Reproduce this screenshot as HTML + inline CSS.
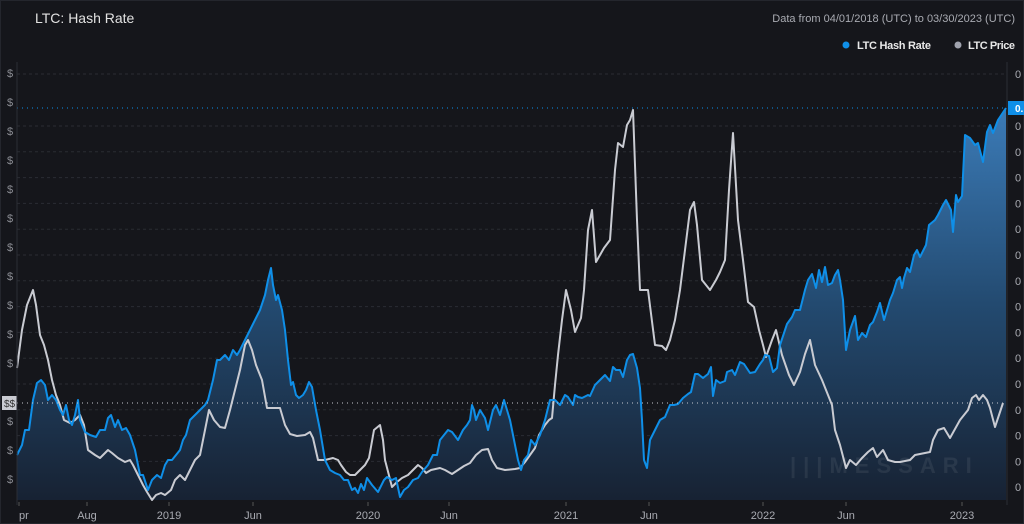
<!DOCTYPE html>
<html><head><meta charset="utf-8"><style>
html,body{margin:0;padding:0;background:#15161b;width:1024px;height:524px;overflow:hidden;font-family:"Liberation Sans",sans-serif}
svg{display:block}
</style></head><body>
<svg id="c" width="1024" height="524" viewBox="0 0 1024 524">
<defs><linearGradient id="g" x1="0" y1="0" x2="0" y2="1"><stop offset="0" stop-color="#3d80bf" stop-opacity="0.95"/><stop offset="0.5" stop-color="#234a70"/><stop offset="1" stop-color="#172233"/></linearGradient></defs>
<rect x="0" y="0" width="1024" height="524" fill="#15161b"/>
<rect x="0.5" y="0.5" width="1023" height="523" fill="none" stroke="#24262d"/>
<text x="35" y="23" fill="#e2e2e2" font-size="14">LTC: Hash Rate</text>
<text x="1015" y="22" fill="#a9abb2" font-size="11" text-anchor="end">Data from 04/01/2018 (UTC) to 03/30/2023 (UTC)</text>
<g><circle cx="846" cy="45" r="3.5" fill="#0f8fe8"/><text x="857" y="49" fill="#e8e8e8" font-size="11" font-weight="bold" textLength="74">LTC Hash Rate</text></g>
<g><circle cx="958" cy="45" r="3.5" fill="#a0a3ae"/><text x="968" y="49" fill="#e8e8e8" font-size="11" font-weight="bold" textLength="47">LTC Price</text></g>
<g id="grid"></g><g id="marks"></g><g id="axes"></g>
</svg>
<script>
// time index (chart units from 04/01/2018) and values
const hashT=[0,5,8,12,16,20,24,28,31,35,39,43,46,49,52,55,58,61,63,68,73,79,83,88,91,94,98,101,105,109,113,118,123,126,131,135,140,144,148,151,155,159,163,166,169,173,178,183,188,191,196,200,203,208,212,216,220,223,228,233,238,243,248,251,254,256,259,261,265,268,271,274,276,279,282,286,289,292,295,299,303,308,313,318,323,327,331,335,338,341,344,347,350,355,361,367,370,375,379,383,387,391,396,401,405,411,416,420,423,427,431,435,441,446,450,453,455,457,459,463,468,471,476,479,483,487,490,493,497,501,504,507,511,514,518,523,528,533,538,543,548,551,556,558,561,565,571,573,578,583,588,593,596,599,603,606,610,613,616,620,623,625,627,630,633,638,643,648,653,657,661,666,671,674,678,681,686,691,694,696,699,703,708,710,715,718,723,727,733,738,743,746,748,752,756,760,763,770,775,778,783,788,791,795,799,802,805,808,811,815,818,821,823,826,829,833,838,841,845,849,853,856,860,863,867,870,873,876,880,883,885,887,890,893,897,900,903,909,912,918,921,926,929,934,936,939,941,945,948,953,958,961,966,970,973,976,981,985,989];
const hashV=[45,55,70,70,100,117,120,115,100,105,100,90,85,95,80,75,85,100,80,68,65,63,70,70,82,85,73,80,70,72,65,50,25,25,10,20,25,22,35,40,40,45,50,60,65,80,85,90,95,100,120,140,140,145,140,150,145,150,160,170,180,190,205,220,232,215,200,205,190,170,140,115,118,105,102,105,110,118,113,90,70,40,30,27,25,20,20,10,12,7,16,10,22,15,8,20,23,20,22,3,10,13,20,22,28,35,45,45,60,65,70,68,60,70,75,80,95,90,80,90,82,70,90,95,85,100,90,80,60,40,30,40,45,60,55,65,80,100,100,95,105,103,95,105,103,102,105,104,115,120,125,119,133,130,130,123,140,145,146,132,112,80,40,32,60,70,80,83,95,95,96,102,106,108,126,126,122,126,133,104,120,117,119,128,130,125,138,136,127,128,136,140,145,144,128,132,155,176,183,190,190,210,220,226,212,230,218,233,215,217,225,230,220,200,150,170,184,160,167,163,175,178,188,197,180,190,200,207,220,223,212,222,232,228,245,250,243,255,275,280,285,295,300,290,268,305,298,304,365,362,355,357,338,368,375,367,380,386,392];
const priceT=[0,5,10,16,19,23,27,31,35,39,43,47,53,58,63,67,71,78,83,91,95,101,108,113,116,121,126,130,135,139,144,148,154,158,163,168,173,178,183,188,192,197,203,208,213,218,223,228,231,235,239,245,250,255,263,268,273,280,288,293,296,301,308,316,321,324,329,333,338,343,348,352,357,363,366,368,375,380,385,391,396,401,405,409,414,423,428,435,441,447,453,459,465,471,475,480,488,498,503,508,513,518,522,528,532,535,538,541,545,549,554,558,564,567,571,575,579,583,587,593,598,601,606,610,613,616,620,623,631,638,645,649,653,658,663,668,673,677,680,685,693,699,703,708,712,716,721,726,731,737,742,746,749,755,759,765,772,777,783,788,793,798,805,809,815,818,823,829,833,839,845,851,856,860,866,871,878,883,893,898,913,916,921,927,933,943,951,955,959,962,966,970,973,978,986];
const priceV=[132,170,195,210,195,165,155,140,120,105,95,80,77,80,85,75,50,45,42,50,47,42,38,40,35,25,15,8,0,5,7,5,10,20,25,20,30,40,45,70,90,80,73,72,90,110,130,155,160,150,135,120,92,92,92,75,66,64,65,68,62,40,40,42,40,35,28,25,25,30,35,42,70,75,60,40,13,18,22,25,30,35,32,27,30,32,30,26,30,34,37,45,50,51,40,32,30,31,32,38,45,52,65,75,80,82,115,145,180,210,190,168,182,210,270,290,238,245,252,260,330,357,353,375,380,390,280,210,210,155,154,150,160,180,210,250,290,298,275,220,210,220,228,240,310,367,280,240,198,193,170,155,143,160,170,145,125,115,128,146,160,135,120,110,95,70,55,32,40,35,42,48,52,43,50,40,38,38,40,45,48,60,70,72,62,80,90,102,105,100,105,100,92,73,97];
const xTicks=["pr","Aug","2019","Jun","2020","Jun","2021","Jun","2022","Jun","2023"];
const xTickT=[2,70,152,236,351,432,549,632,746,829,945];
const leftLabels=["$","$","$","$","$","$","$","$","$","$","$","$","$","$","$"];
const rightLabels=["0","0","0","0","0","0","0","0","0","0","0","0","0","0","0","0"];
</script>
<script>
const NS="http://www.w3.org/2000/svg";
const X0=17,X1=1006,Y0=500;
const xs=t=>X0+t*(X1-X0)/989;
const ys=v=>Y0-v;
function mk(tag,attrs,parent){const e=document.createElementNS(NS,tag);for(const k in attrs)e.setAttribute(k,attrs[k]);parent.appendChild(e);return e;}
const grid=document.getElementById('grid'),marks=document.getElementById('marks'),axes=document.getElementById('axes');
const hy=ys(hashV[hashV.length-1]),py=ys(priceV[priceV.length-1]);
rightLabels.forEach((l,i)=>{
  const y=i===0?74:126+(i-1)*25.8;
  const ln=mk('line',{x1:X0,x2:X1,y1:y,y2:y,stroke:'#2a2c33','stroke-dasharray':'3,3'},grid);
  
  
  const tx=mk('text',{x:1015,y:y+4,fill:'#a9abb2','font-size':11},axes);tx.textContent=l;
  
  
});
leftLabels.forEach((l,i)=>{
  const y=73+i*29;
  if(Math.abs(y-py)<13)return;
  const tx=mk('text',{x:7,y:y+4,fill:'#8a8c93','font-size':11},axes);tx.textContent=l;
  
  
});
let d='';hashT.forEach((t,i)=>{d+=(i?'L':'M')+xs(t).toFixed(1)+','+ys(hashV[i]).toFixed(1);});
const area=mk('path',{d:d+'L'+xs(hashT[hashT.length-1])+','+Y0+'L'+xs(hashT[0])+','+Y0+'Z',fill:'url(#g)'},marks);


let pd='';priceT.forEach((t,i)=>{pd+=(i?'L':'M')+xs(t).toFixed(1)+','+ys(priceV[i]).toFixed(1);});
const pl=mk('path',{d:pd,fill:'none',stroke:'#c9cbd2','stroke-width':2,'stroke-linejoin':'round'},marks);


const hl=mk('path',{d:d,fill:'none',stroke:'#0f8fe8','stroke-width':2,'stroke-linejoin':'round'},marks);


const g1=mk('line',{x1:X0,x2:X1,y1:hy,y2:hy,stroke:'#0f8fe8','stroke-dasharray':'1,4'},axes);


const g2=mk('line',{x1:X0,x2:X1,y1:py,y2:py,stroke:'#c9cbd2','stroke-dasharray':'1,4'},axes);


const b1=mk('rect',{x:1008,y:hy-7,width:16,height:14,fill:'#0f8fe8'},axes);


const bt=mk('text',{x:1015,y:hy+4,fill:'#fff','font-size':10,'font-weight':'bold'},axes);bt.textContent='0.';


const b2=mk('rect',{x:2,y:py-7,width:15,height:14,fill:'#c9cbd2'},axes);


const b2t=mk('text',{x:4,y:py+4,fill:'#333','font-size':10},axes);b2t.textContent='$$';


[[X0,62,X0,505],[1007,62,1007,505]].forEach(a=>{const l=mk('line',{x1:a[0],y1:a[1],x2:a[2],y2:a[3],stroke:'#2c2e35'},axes);

});
xTicks.forEach((l,i)=>{
  const x=xs(xTickT[i]);
  mk('line',{x1:x,x2:x,y1:502,y2:506,stroke:'#555'},axes);
  const tx=mk('text',{x:x,y:519,fill:'#a9abb2','font-size':11,'text-anchor':i===0?'start':'middle'},axes);tx.textContent=l;
  
  
});
const wm=mk('text',{x:790,y:473,fill:'#ffffff','fill-opacity':0.07,'font-size':22,'font-weight':'bold','letter-spacing':7},axes);wm.textContent='|||MESSARI';


</script>
</body></html>
